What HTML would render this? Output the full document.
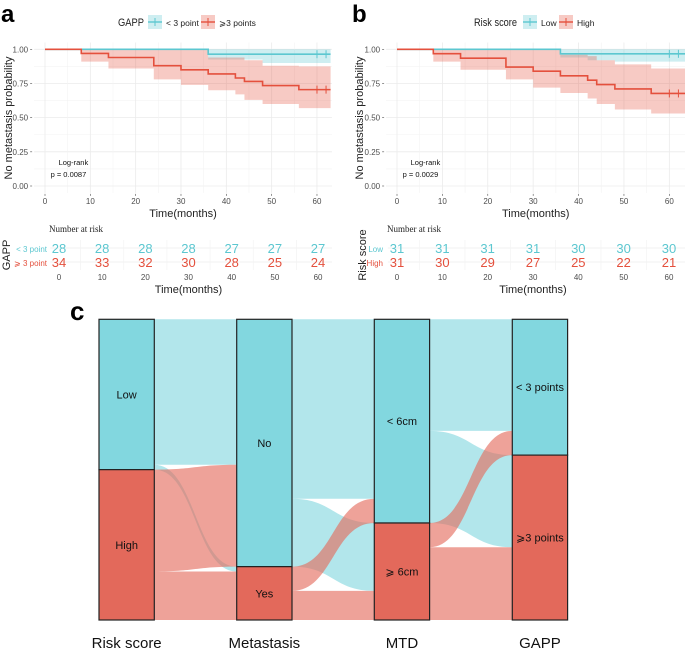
<!DOCTYPE html>
<html><head><meta charset="utf-8">
<style>
html,body{margin:0;padding:0;background:#fff;}
body{width:685px;height:651px;overflow:hidden;font-family:"Liberation Sans",sans-serif;}
svg{display:block;}
</style></head>
<body>
<svg id="fig" width="685" height="651" viewBox="0 0 685 651" xmlns="http://www.w3.org/2000/svg"></svg>
<script>
// ---------- Panel a data ----------
const aHighTimes=[0,8,14,24,30,36,42,44,48,56];
const aHighSurv=[1,.97,.94,.88,.85,.82,.79,.765,.735,.705];
const aHighLower=[1,.91,.86,.78,.74,.70,.67,.63,.60,.57];
const aHighUpper=[1,1,1,1,1,.94,.94,.92,.88,.875];
const aLowTimes=[0,36,48];
const aLowSurv=[1,.964,.964];
const aLowLower=[1,.925,.90];
const aLowUpper=[1,1,1];
const aCensor=[60,62];
const aRiskLow=[28,28,28,28,27,27,27];
const aRiskHigh=[34,33,32,30,28,25,24];
// ---------- Panel b data ----------
const bHighTimes=[0,8,14,24,30,36,42,44,48,56];
const bHighSurv=[1,.968,.935,.87,.84,.806,.774,.742,.71,.677];
const bHighLower=[1,.91,.85,.78,.72,.68,.64,.60,.56,.53];
const bHighUpper=[1,1,1,1,1,.96,.95,.92,.89,.86];
const bLowTimes=[0,36,42,48];
const bLowSurv=[1,.967,.967,.967];
const bLowLower=[1,.94,.92,.91];
const bLowUpper=[1,1,1,1];
const bCensor=[60,62];
const bRiskLow=[31,31,31,31,30,30,30];
const bRiskHigh=[31,30,29,27,25,22,21];
const riskTimes=[0,10,20,30,40,50,60];
const xTicks=[0,10,20,30,40,50,60];
const yTicks=[0,0.25,0.5,0.75,1];
const yTickLabels=["0.00","0.25","0.50","0.75","1.00"];
// ---------- Alluvial data ----------
const axesNames=["Risk score","Metastasis","MTD","GAPP"];
const strataLabels=[["Low","High"],["No","Yes"],["< 6cm","\u2a7e 6cm"],["< 3 points","\u2a7e3 points"]];
const strataCounts=[[31,31],[51,11],[42,20],[28,34]];
const flows1=[[0,0,30],[0,1,1],[1,0,21],[1,1,10]];
const flows2=[[0,0,37],[0,1,14],[1,0,5],[1,1,6]];
const flows3=[[0,0,23],[0,1,19],[1,0,5],[1,1,15]];

const NS="http://www.w3.org/2000/svg";
const svg=document.getElementById('fig');
function mk(tag,attrs,parent,name,inter){
  const e=document.createElementNS(NS,tag);
  for(const k in attrs)e.setAttribute(k,attrs[k]);
  
  
  (parent||svg).appendChild(e);return e;
}
function txt(x,y,s,attrs,parent,name){
  const t=mk('text',Object.assign({x:x,y:y},attrs||{}),parent,name,false);t.textContent=s;return t;
}
const TEAL="#5cc7d0",RED="#e4503d";

function drawKM(cfg){
  const g=mk('g',{},svg,cfg.name,false);
  const X=t=>cfg.x0+t*cfg.sx, Y=p=>186-p*136.7;
  const left=X(-2.4), right=X(cfg.xmax), top=Y(1.05), bot=Y(-0.05);
  for(let v=0.125;v<=1.05;v+=0.25){ mk('line',{x1:left,x2:right,y1:Y(v),y2:Y(v),stroke:"#f3f3f3","stroke-width":0.6},g,'minor-gridline',false);}
  yTicks.forEach(v=>mk('line',{x1:left,x2:right,y1:Y(v),y2:Y(v),stroke:"#ebebeb","stroke-width":0.8},g,'major-gridline',false));
  for(let t=5;t<cfg.xmax;t+=10) mk('line',{x1:X(t),x2:X(t),y1:top,y2:bot,stroke:"#f3f3f3","stroke-width":0.6},g,'minor-gridline',false);
  xTicks.forEach(t=>mk('line',{x1:X(t),x2:X(t),y1:top,y2:bot,stroke:"#ebebeb","stroke-width":0.8},g,'major-gridline',false));
  yTicks.forEach((v,i)=>{txt(left-6,Y(v)+3,yTickLabels[i],{"font-size":8,fill:"#4d4d4d","text-anchor":"end"},g,'y-tick-label');
    mk('line',{x1:left-4,x2:left-2,y1:Y(v),y2:Y(v),stroke:"#4d4d4d","stroke-width":0.6},g,'y-tick',false);});
  xTicks.forEach(t=>{txt(X(t),bot+11,String(t),{"font-size":8,fill:"#4d4d4d","text-anchor":"middle"},g,'x-tick-label');
    mk('line',{x1:X(t),x2:X(t),y1:bot+1,y2:bot+3,stroke:"#4d4d4d","stroke-width":0.6},g,'x-tick',false);});
  txt((left+right)/2,bot+24,"Time(months)",{"font-size":11,fill:"#222","text-anchor":"middle"},g,'x-axis-title');
  txt(0,0,"No metastasis probability",{"font-size":11,fill:"#222","text-anchor":"middle",transform:`translate(${cfg.ytx},118) rotate(-90)`},g,'y-axis-title');
  function band(times,lo,hi,color,name){
    let pts=[];
    for(let i=0;i<times.length;i++){const t2=i+1<times.length?times[i+1]:cfg.xend;pts.push([X(times[i]),Y(hi[i])],[X(t2),Y(hi[i])]);}
    for(let i=times.length-1;i>=0;i--){const t2=i+1<times.length?times[i+1]:cfg.xend;pts.push([X(t2),Y(lo[i])],[X(times[i]),Y(lo[i])]);}
    const d="M"+pts.map(p=>p.join(",")).join("L")+"Z";
    mk('path',{d:d,fill:color,"fill-opacity":0.3,stroke:"none"},g,name,false);
  }
  function line(times,s,color,name){
    let d=`M${X(times[0])},${Y(s[0])}`;
    for(let i=0;i<times.length;i++){const t2=i+1<times.length?times[i+1]:cfg.xend;d+=`H${X(t2)}`;if(i+1<times.length)d+=`V${Y(s[i+1])}`;}
    mk('path',{d:d,fill:"none",stroke:color,"stroke-width":1.6},g,name,false);
  }
  band(cfg.lowT,cfg.lowL,cfg.lowU,TEAL,'ci-band-low');
  band(cfg.highT,cfg.highL,cfg.highU,RED,'ci-band-high');
  line(cfg.lowT,cfg.lowS,TEAL,'survival-curve-low');
  line(cfg.highT,cfg.highS,RED,'survival-curve-high');
  cfg.censor.forEach(t=>{
    const sl=cfg.lowS[cfg.lowS.length-1], sh=cfg.highS[cfg.highS.length-1];
    mk('line',{x1:X(t),x2:X(t),y1:Y(sl)-4,y2:Y(sl)+4,stroke:TEAL,"stroke-width":1},g,'censor-mark-low',false);
    mk('line',{x1:X(t),x2:X(t),y1:Y(sh)-4,y2:Y(sh)+4,stroke:RED,"stroke-width":1},g,'censor-mark-high',false);
  });
  txt(X(cfg.lrx),165,"Log-rank",{"font-size":7.5,fill:"#111"},g,'logrank-label');
  txt(X(cfg.lrx)-8,177,cfg.p,{"font-size":7.5,fill:"#111"},g,'p-value');
  const lg=mk('g',{},g,'legend',false);
  txt(cfg.leg[0],26,cfg.legTitle,{"font-size":11,fill:"#222",textLength:cfg.legTitleW,lengthAdjust:"spacingAndGlyphs"},lg,'legend-title');
  [[cfg.leg[1],TEAL,cfg.legLabels[0],'legend-entry-low'],[cfg.leg[2],RED,cfg.legLabels[1],'legend-entry-high']].forEach(([lx,c,lab,nm])=>{
    const e=mk('g',{},lg,nm,true);
    mk('rect',{x:lx,y:15,width:14,height:14,fill:c,"fill-opacity":0.3},e,'legend-key',false);
    mk('line',{x1:lx,x2:lx+14,y1:22,y2:22,stroke:c,"stroke-width":1.4},e,'legend-key-line',false);
    mk('line',{x1:lx+7,x2:lx+7,y1:18,y2:26,stroke:c,"stroke-width":1},e,'legend-key-tick',false);
    txt(lx+18,26,lab,{"font-size":8.5,fill:"#222"},e,'legend-label');
  });
  const rt=mk('g',{},g,'risk-table',false);
  const RX=t=>cfg.rx0+t*cfg.rsx;
  txt(RX(0)-10,232,"Number at risk",{"font-size":9,fill:"#222","font-family":"Liberation Serif,serif"},rt,'risk-table-title');
  [248,262].forEach(y=>mk('line',{x1:RX(-2),x2:right,y1:y,y2:y,stroke:"#ececec","stroke-width":0.8},rt,'risk-gridline',false));
  riskTimes.forEach(t=>{ if(t<60) mk('line',{x1:RX(t+5),x2:RX(t+5),y1:240,y2:270,stroke:"#f3f3f3","stroke-width":0.7},rt,'risk-gridline',false);});
  txt(cfg.rlabx,252,cfg.rowLabels[0],{"font-size":8,fill:TEAL,"text-anchor":"end"},rt,'risk-row-label-low');
  txt(cfg.rlabx,266,cfg.rowLabels[1],{"font-size":8,fill:RED,"text-anchor":"end"},rt,'risk-row-label-high');
  txt(0,0,cfg.legTitle,{"font-size":11,fill:"#222","text-anchor":"middle",transform:`translate(${cfg.rtitx},255) rotate(-90)`},rt,'risk-y-title');
  riskTimes.forEach((t,i)=>{
    txt(RX(t),253,String(cfg.riskLow[i]),{"font-size":13,fill:TEAL,"text-anchor":"middle"},rt,'risk-count-low');
    txt(RX(t),267,String(cfg.riskHigh[i]),{"font-size":13,fill:RED,"text-anchor":"middle"},rt,'risk-count-high');
    txt(RX(t),280,String(t),{"font-size":8,fill:"#4d4d4d","text-anchor":"middle"},rt,'risk-x-tick-label');
  });
  txt((RX(0)+RX(60))/2,293,"Time(months)",{"font-size":11,fill:"#222","text-anchor":"middle"},rt,'risk-x-axis-title');
  txt(cfg.letterX,22,cfg.letter,{"font-size":24,"font-weight":"bold",fill:"#000"},g,'panel-label');
}
drawKM({name:'panel-a',x0:45,sx:4.533,xmax:63.3,xend:63,ytx:12,letter:'a',letterX:1,
  highT:aHighTimes,highS:aHighSurv,highL:aHighLower,highU:aHighUpper,
  lowT:aLowTimes,lowS:aLowSurv,lowL:aLowLower,lowU:aLowUpper,censor:aCensor,lrx:3,p:"p = 0.0087",
  legTitle:"GAPP",legTitleW:26,leg:[118,148,201],legLabels:["< 3 point","\u2a7e3 points"],
  rx0:59,rsx:4.317,riskLow:aRiskLow,riskHigh:aRiskHigh,rlabx:47,rowLabels:["< 3 point","\u2a7e 3 point"],rtitx:10});
drawKM({name:'panel-b',x0:397,sx:4.539,xmax:63.5,xend:63.5,ytx:363,letter:'b',letterX:352,
  highT:bHighTimes,highS:bHighSurv,highL:bHighLower,highU:bHighUpper,
  lowT:bLowTimes,lowS:bLowSurv,lowL:bLowLower,lowU:bLowUpper,censor:bCensor,lrx:3,p:"p = 0.0029",
  legTitle:"Risk score",legTitleW:43,leg:[474,523,559],legLabels:["Low","High"],
  rx0:397,rsx:4.533,riskLow:bRiskLow,riskHigh:bRiskHigh,rlabx:383,rowLabels:["Low","High"],rtitx:366});

// ---------- Alluvial ----------
const ag=mk('g',{},svg,'alluvial-panel-c',false);
const colX=[99,236.7,374.3,512.3], colW=55.3, aTop=319.3, aBot=620;
const total=strataCounts[0][0]+strataCounts[0][1];
const unit=(aBot-aTop)/total;
const COLS=["#82d7df","#e3695b"];
txt(70,320,"c",{"font-size":26,"font-weight":"bold",fill:"#000"},ag,'panel-label');
function drawFlows(flows,ai,name){
  const xl=colX[ai]+colW, xr=colX[ai+1];
  const loff=[aTop,aTop+strataCounts[ai][0]*unit];
  const roff=[aTop,aTop+strataCounts[ai+1][0]*unit];
  const fg=mk('g',{},ag,name,false);
  const L={},R={};
  flows.forEach(f=>{L[f[0]+'-'+f[1]]=loff[f[0]];loff[f[0]]+=f[2]*unit;});
  const byTo=flows.slice().sort((a,b)=>a[1]-b[1]||a[0]-b[0]);
  byTo.forEach(f=>{R[f[0]+'-'+f[1]]=roff[f[1]];roff[f[1]]+=f[2]*unit;});
  flows.forEach(f=>{
    const h=f[2]*unit, y0=L[f[0]+'-'+f[1]], y1=R[f[0]+'-'+f[1]], mx=(xl+xr)/2;
    const d=`M${xl},${y0}C${mx},${y0} ${mx},${y1} ${xr},${y1}L${xr},${y1+h}C${mx},${y1+h} ${mx},${y0+h} ${xl},${y0+h}Z`;
    mk('path',{d:d,fill:COLS[f[0]],"fill-opacity":0.62,stroke:"none"},fg,'flow',false);
  });
}
drawFlows(flows1,0,'flows-risk-to-metastasis');
drawFlows(flows2,1,'flows-metastasis-to-mtd');
drawFlows(flows3,2,'flows-mtd-to-gapp');
axesNames.forEach((n,ai)=>{
  let y=aTop;
  strataCounts[ai].forEach((c,si)=>{
    const h=c*unit;
    const s=mk('g',{},ag,'stratum-'+ai+'-'+si,true);
    mk('rect',{x:colX[ai],y:y,width:colW,height:h,fill:COLS[si],stroke:"#222","stroke-width":1.2},s,'stratum-box',false);
    txt(colX[ai]+colW/2,y+h/2+4,strataLabels[ai][si],{"font-size":11,fill:"#111","text-anchor":"middle"},s,'stratum-label');
    y+=h;
  });
  txt(colX[ai]+colW/2,648,n,{"font-size":15,fill:"#111","text-anchor":"middle"},ag,'axis-label');
});
</script>
</body></html>
